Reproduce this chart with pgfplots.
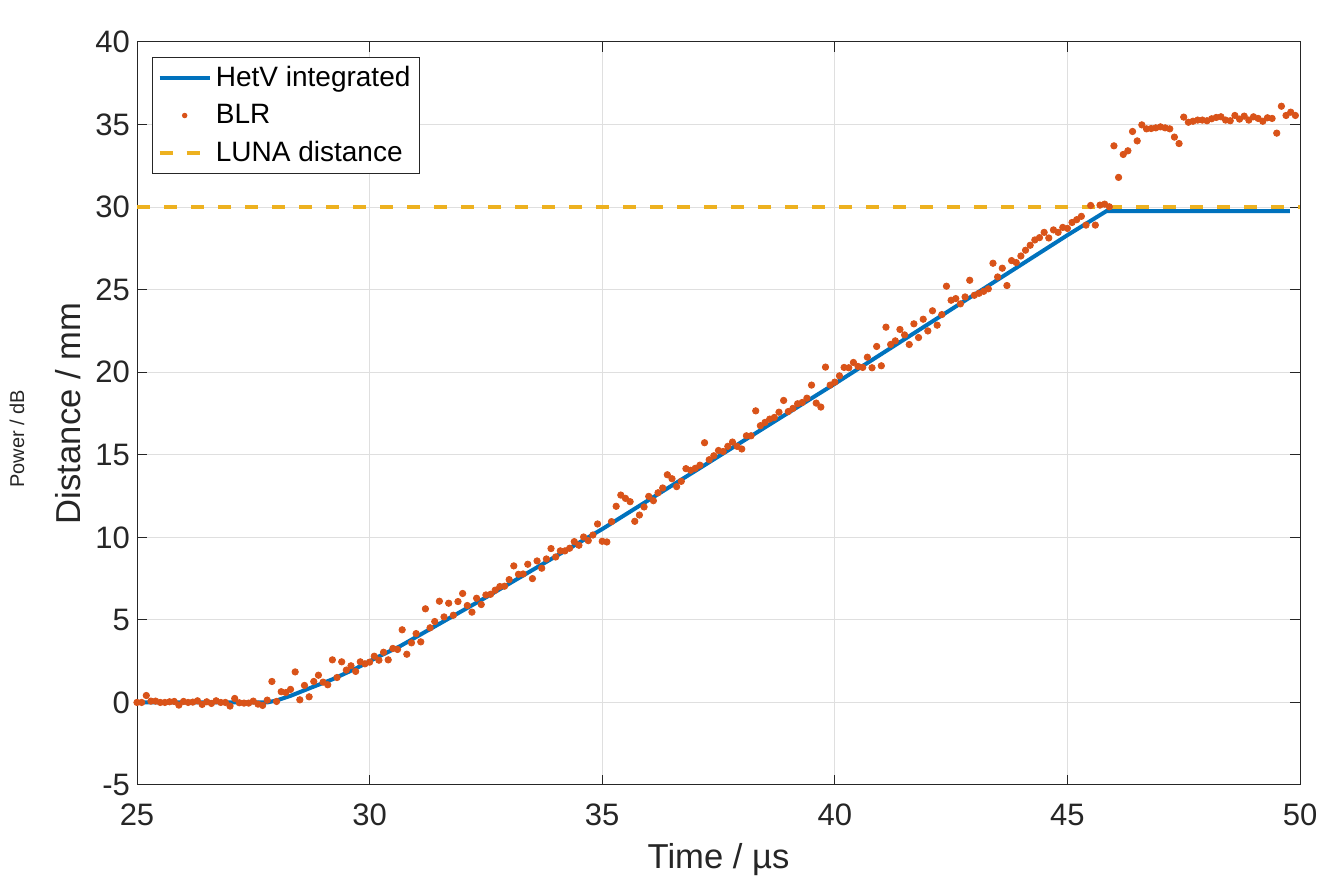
\documentclass[border=0pt]{standalone}
\usepackage{pgfplots}
\pgfplotsset{compat=1.18}
\usepackage{fontspec}
\setmainfont{Liberation Sans}
\definecolor{mblue}{rgb}{0,0.447,0.741}
\definecolor{morange}{rgb}{0.851,0.325,0.098}
\definecolor{myellow}{rgb}{0.929,0.694,0.125}
\definecolor{axgray}{rgb}{0.15,0.15,0.15}
\pgfplotsset{
  lineleg/.style={legend image code/.code={\draw[##1] (0pt,0pt) -- (25pt,0pt);}},
  dotleg/.style={legend image code/.code={\draw[##1, mark size=1.1pt] plot coordinates {(12.5pt,0pt)};}},
}
\begin{document}
\begin{tikzpicture}
\begin{axis}[
  scale only axis,
  width=581.5pt, height=371.5pt,
  xmin=25, xmax=50, ymin=-5, ymax=40,
  xtick={25,30,35,40,45,50},
  ytick={-5,0,5,10,15,20,25,30,35,40},
  /pgf/number format/assume math mode=true,
  tick label style={font=\fontsize{15.5}{18}\selectfont, text=axgray},
  xticklabel style={yshift=-6pt},
  tick align=inside,
  major tick length=5pt,
  tick style={axgray, line width=0.5pt},
  axis line style={axgray, line width=0.5pt},
  grid=major,
  major grid style={gray!25, line width=0.5pt},
  xlabel={Time / µs},
  ylabel={Distance / mm},
  label style={font=\fontsize{17.3}{20}\selectfont, text=axgray},
  xlabel style={at={(axis description cs:0.5,0)}, anchor=center, yshift=-37.5pt},
  ylabel style={at={(axis description cs:0,0.5)}, anchor=center, yshift=34.5pt},
  clip=false,
  legend cell align=left,
  legend style={at={(axis description cs:0,1)}, anchor=north west, xshift=7.5pt, yshift=-7.5pt,
    font=\fontsize{14}{17}\selectfont, draw=axgray, line width=0.5pt, inner sep=2.5pt,
    row sep=3.3pt},
]
\addplot[mblue, line width=2pt, lineleg] coordinates {
(25,0) (27.8,0) (28.0,0.12) (28.3,0.4) (28.7,0.85) (29.2,1.4) (29.7,2.05) (30.14,2.7)
(30.65,3.4) (32.48,6.33) (35.0,10.5) (37.5,14.9) (40.0,19.3) (42.5,23.8) (45.0,28.3)
(45.84,29.76) (49.78,29.76)
};
\addlegendentry{HetV integrated}
\addplot[only marks, mark=*, mark size=1.6pt, morange, mark options={fill=morange, draw=morange}, dotleg] table {
x y
25.0 0
25.1 0
25.2 0.42
25.3 0.08
25.4 0.08
25.5 0
25.6 0
25.7 0.04
25.8 0.06
25.9 -0.16
26.0 0.06
26.1 0
26.2 0.02
26.3 0.1
26.4 -0.12
26.5 0.04
26.6 -0.06
26.7 0.1
26.8 0
26.9 0
27.0 -0.22
27.1 0.24
27.2 -0.02
27.3 -0.04
27.4 -0.04
27.5 0.08
27.6 -0.1
27.7 -0.18
27.8 0.14
27.9 1.27
28.0 0.06
28.1 0.65
28.2 0.6
28.3 0.79
28.4 1.85
28.5 0.16
28.6 1.03
28.7 0.34
28.8 1.27
28.9 1.65
29.0 1.23
29.1 1.07
29.2 2.58
29.3 1.51
29.4 2.46
29.5 1.96
29.6 2.22
29.7 1.88
29.8 2.46
29.9 2.34
30.0 2.44
30.1 2.8
30.2 2.56
30.3 3.04
30.4 2.58
30.5 3.27
30.6 3.21
30.7 4.40
30.8 2.92
30.9 3.61
31.0 4.17
31.1 3.67
31.2 5.67
31.3 4.52
31.4 4.90
31.5 6.13
31.6 5.18
31.7 6.01
31.8 5.28
31.9 6.11
32.0 6.60
32.1 5.87
32.2 5.47
32.3 6.31
32.4 5.93
32.5 6.51
32.6 6.55
32.7 6.80
32.8 7.02
32.9 7.04
33.0 7.44
33.1 8.27
33.2 7.76
33.3 7.78
33.4 8.37
33.5 7.50
33.6 8.57
33.7 8.13
33.8 8.69
33.9 9.32
34.0 8.81
34.1 9.18
34.2 9.18
34.3 9.34
34.4 9.74
34.5 9.52
34.6 10.02
34.7 9.80
34.8 10.14
34.9 10.81
35.0 9.76
35.1 9.72
35.2 10.95
35.3 11.88
35.4 12.56
35.5 12.36
35.6 12.16
35.7 10.97
35.8 11.35
35.9 11.84
36.0 12.48
36.1 12.22
36.2 12.70
36.3 12.99
36.4 13.79
36.5 13.55
36.6 13.07
36.7 13.39
36.8 14.16
36.9 14.06
37.0 14.18
37.1 14.37
37.2 15.73
37.3 14.70
37.4 14.94
37.5 15.26
37.6 15.20
37.7 15.51
37.8 15.77
37.9 15.51
38.0 15.35
38.1 16.15
38.2 16.15
38.3 17.66
38.4 16.76
38.5 16.96
38.6 17.16
38.7 17.26
38.8 17.58
38.9 18.29
39.0 17.62
39.1 17.81
39.2 18.09
39.3 18.17
39.4 18.43
39.5 19.22
39.6 18.13
39.7 17.89
39.8 20.31
39.9 19.22
40.0 19.40
40.1 19.78
40.2 20.29
40.3 20.27
40.4 20.59
40.5 20.35
40.6 20.29
40.7 20.91
40.8 20.27
40.9 21.56
41.0 20.39
41.1 22.73
41.2 21.68
41.3 21.90
41.4 22.59
41.5 22.26
41.6 21.68
41.7 22.93
41.8 22.10
41.9 23.21
42.0 22.50
42.1 23.72
42.2 22.85
42.3 23.49
42.4 25.21
42.5 24.36
42.6 24.46
42.7 24.14
42.8 24.56
42.9 25.57
43.0 24.66
43.1 24.78
43.2 24.90
43.3 25.05
43.4 26.60
43.5 25.77
43.6 26.30
43.7 25.25
43.8 26.76
43.9 26.64
44.0 27.04
44.1 27.39
44.2 27.69
44.3 28.01
44.4 28.15
44.5 28.47
44.6 28.13
44.7 28.62
44.8 28.47
44.9 28.77
45.0 28.71
45.1 29.07
45.2 29.24
45.3 29.44
45.4 28.91
45.5 30.10
45.6 28.91
45.7 30.12
45.8 30.18
45.9 30.02
46.0 33.71
46.1 31.80
46.2 33.19
46.3 33.41
46.4 34.58
46.5 34.01
46.6 34.98
46.7 34.74
46.8 34.76
46.9 34.80
47.0 34.86
47.1 34.80
47.2 34.74
47.3 34.24
47.4 33.85
47.5 35.45
47.6 35.14
47.7 35.20
47.8 35.27
47.9 35.27
48.0 35.23
48.1 35.35
48.2 35.43
48.3 35.47
48.4 35.27
48.5 35.23
48.6 35.55
48.7 35.33
48.8 35.51
48.9 35.27
49.0 35.47
49.1 35.37
49.2 35.20
49.3 35.41
49.4 35.37
49.5 34.48
49.6 36.11
49.7 35.55
49.8 35.75
49.9 35.55
};
\addlegendentry{BLR}
\addplot[myellow, line width=2.2pt, dash pattern=on 6.5pt off 7pt, lineleg] coordinates {
(25,30) (50,30)
};
\addlegendentry{LUNA distance}
\node[rotate=90, anchor=center, font=\fontsize{10}{12}\selectfont, text=axgray, yshift=60pt]
  at (axis description cs:0,0.4657) {Power / dB};
\end{axis}
\pgfresetboundingbox
\path (-68.5pt,-51pt) rectangle (591.5pt,392.5pt);
\end{tikzpicture}
\end{document}
